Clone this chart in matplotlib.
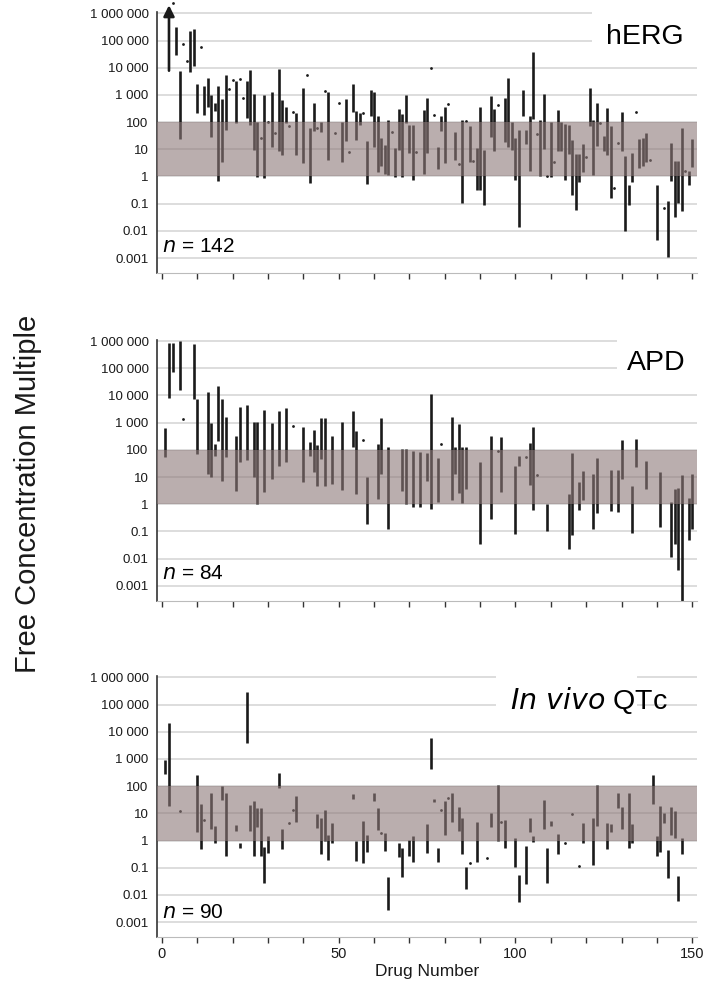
import matplotlib
matplotlib.use("Agg")
import matplotlib.pyplot as plt
import numpy as np
from matplotlib.patches import Rectangle

plt.rcParams["font.family"] = ["Liberation Sans", "DejaVu Sans"]

# --- hERG : drug number, log10 upper / lower free concentration multiple ---
herg_drug = [4, 5, 8, 9, 10, 12, 13, 14, 15, 16, 17, 18, 21, 24, 25, 26, 27, 29, 31, 33,
             34, 35, 38, 40, 42, 43, 45, 47, 51, 52, 54, 55, 56, 58, 59, 60, 61, 62, 63, 64,
             66, 67, 68, 69, 70, 71, 74, 75, 78, 79, 80, 83, 85, 87, 89, 90, 91, 93, 94, 97,
             98, 99, 100, 101, 102, 103, 104, 105, 107, 108, 110, 112, 113, 114, 115, 116,
             117, 118, 119, 121, 122, 123, 125, 126, 127, 130, 131, 132, 133, 135, 136, 137,
             140, 143, 144, 145, 146, 147, 149, 150]
herg_hi = [5.49, 3.89, 5.35, 5.41, 3.39, 3.31, 3.61, 3.00, 2.69, 3.34, 2.85, 3.74, 3.52, 3.52,
           3.92, 3.03, 2.02, 2.98, 3.12, 3.96, 2.82, 2.55, 2.33, 3.25, 1.80, 2.72, 1.99, 3.12,
           2.02, 2.84, 3.40, 2.39, 2.35, 1.29, 3.19, 3.12, 2.21, 1.41, 1.14, 2.08, 1.04, 2.49,
           2.29, 3.00, 1.90, 1.90, 2.45, 2.87, 1.10, 2.21, 2.55, 1.65, 2.08, 1.86, 1.04, 2.55,
           0.98, 2.97, 2.49, 2.88, 3.61, 1.99, 1.43, 1.72, 3.19, 1.72, 2.23, 4.59, 2.06, 3.04,
           2.02, 2.45, 1.99, 1.94, 1.90, 1.35, 0.82, 0.82, 1.19, 3.25, 2.08, 2.69, 1.50, 2.51,
           1.86, 2.36, 0.77, -0.30, 0.86, 1.37, 1.41, 1.59, -0.30, -0.92, 1.23, 0.55, 0.58,
           1.77, 0.19, 1.39]
herg_lo = [4.45, 1.37, 3.83, 4.07, 2.35, 2.27, 2.57, 1.45, 2.39, -0.16, 0.52, 1.72, 1.96, 2.14,
           1.90, 0.98, -0.03, -0.06, 1.10, 0.92, 0.80, 1.96, 0.80, 0.49, -0.24, 1.68, 1.63, 0.59,
           0.52, 1.32, 2.36, 1.35, 1.90, -0.27, 2.24, 1.10, 0.16, 0.37, 0.10, 0.04, -0.02, 0.96,
           -0.03, 1.96, 0.86, -0.12, 0.10, 0.86, 0.28, 1.68, 0.49, 0.59, -0.98, 0.53, -0.49,
           -0.49, -1.04, 1.45, 0.92, 1.25, 1.10, 0.96, -0.14, -1.86, 2.21, 1.20, 0.19, 2.11,
           0.03, 1.01, -0.02, 0.92, 0.92, -0.12, 0.83, -0.70, -1.25, -0.22, 0.15, 1.86, 0.04,
           1.13, 0.94, 0.80, -0.79, 0.92, -1.99, -1.06, -0.21, 0.31, 0.37, 0.53, -2.35, -2.96,
           -0.18, -1.49, -0.98, -1.28, -0.30, 0.34]
herg_dot_drug = [3, 6, 7, 11, 19, 20, 22, 23, 28, 30, 32, 36, 37, 41, 44, 46, 49, 50, 53, 57,
                 65, 72, 76, 77, 81, 84, 86, 88, 95, 106, 109, 111, 120, 124, 128, 129, 134,
                 138, 142, 148]
herg_dot = [6.38, 4.87, 4.23, 4.78, 3.21, 3.53, 3.59, 2.87, 1.42, 1.99, 1.59, 1.86, 2.36, 3.72,
            1.78, 3.14, 1.59, 2.72, 0.90, 2.33, 1.63, 0.90, 4.00, 2.27, 2.67, 0.47, 2.05, 0.55,
            2.63, 1.56, 0.00, 0.52, 0.71, 1.96, -0.43, 1.23, 2.36, 0.59, -1.16, 0.19]
herg_arrow = (2, 3.89, 6.30)  # drug, log10 low, arrow tip

# --- APD ---
apd_drug = [1, 2, 3, 5, 9, 10, 13, 14, 15, 16, 17, 18, 21, 22, 24, 26, 27, 29, 31, 33, 35, 40,
            42, 43, 44, 45, 46, 48, 51, 54, 55, 58, 61, 62, 64, 68, 69, 71, 73, 75, 76, 78, 82,
            83, 84, 85, 86, 90, 93, 96, 100, 101, 104, 105, 109, 115, 116, 118, 119, 122, 123,
            127, 129, 130, 133, 134, 137, 141, 144, 145, 146, 147, 149, 150]
apd_hi = [2.80, 5.94, 5.94, 6.00, 5.89, 3.86, 4.14, 3.00, 2.21, 4.36, 3.86, 3.22, 2.52, 3.59,
          3.65, 3.04, 3.04, 3.47, 2.98, 3.43, 3.55, 2.83, 2.28, 2.74, 2.19, 3.16, 3.16, 2.49,
          3.04, 3.43, 2.71, 0.99, 2.21, 3.16, 2.09, 2.03, 2.03, 1.94, 1.92, 1.90, 4.04, 1.70,
          3.22, 2.12, 2.96, 2.09, 2.09, 1.57, 2.49, 2.47, 1.42, 1.78, 2.25, 2.83, 0.02, 0.38,
          1.88, 0.82, 1.21, 1.12, 1.70, 1.27, 1.24, 2.37, 0.66, 2.39, 1.60, 1.17, 0.08, 0.56,
          0.60, 1.06, 0.23, 1.11]
apd_lo = [1.73, 3.90, 4.88, 4.20, 3.86, 1.84, 1.11, 0.99, 1.78, 2.33, 0.84, 1.72, 0.50, 1.57,
          1.64, 1.00, -0.01, 0.44, 0.94, 1.39, 1.54, 0.80, 1.78, 1.17, 0.68, 1.66, 0.66, 0.74,
          0.54, 2.10, 0.38, -0.72, 0.19, 1.12, -0.93, 0.47, -0.01, -0.10, -0.11, 0.87, -0.17,
          0.08, 0.17, 1.12, 0.41, 0.05, 0.56, -1.46, -0.54, 0.44, -1.11, 1.39, 0.69, -0.20,
          -0.99, -1.64, -1.15, -0.20, 0.17, -0.91, -0.32, -0.26, -0.30, 0.94, -1.05, 1.37, 0.57,
          -0.85, -1.95, -1.48, -2.42, -3.80, -1.30, -0.93]
apd_dot_drug = [6, 37, 57, 79, 95, 103, 106]
apd_dot = [3.14, 2.86, 2.35, 2.21, 1.94, 1.72, 1.09]

# --- In vivo QTc ---
qtc_drug = [1, 2, 10, 11, 14, 15, 17, 18, 21, 22, 24, 25, 26, 27, 28, 29, 30, 33, 34, 38, 44,
            45, 46, 47, 48, 54, 55, 57, 58, 60, 61, 63, 64, 67, 68, 70, 71, 75, 76, 77, 78, 80,
            82, 84, 85, 86, 89, 93, 95, 97, 100, 101, 103, 104, 105, 108, 109, 110, 112, 119,
            122, 123, 126, 127, 129, 130, 132, 133, 139, 140, 141, 142, 143, 144, 145, 146, 147]
qtc_hi = [2.95, 4.33, 2.40, 1.34, 1.73, 0.53, 2.01, 1.75, 0.57, -0.10, 5.45, 1.30, 1.46, 1.18,
          1.18, -0.23, 0.16, 2.50, 0.41, 1.64, 0.96, 0.81, 1.14, 0.22, 0.65, 1.70, -0.02, 0.71,
          0.22, 1.75, 1.18, 0.29, -1.35, -0.10, -0.29, 0.02, 0.16, 0.59, 3.77, 1.54, -0.26,
          1.45, 1.73, 1.24, 0.81, -0.96, 0.69, 1.02, 2.03, 0.77, 0.08, -1.27, -0.20, 0.84,
          0.16, 1.48, -0.29, 0.71, 0.24, 0.65, 0.84, 2.03, 0.63, 0.60, 1.76, 1.24, 1.76, 0.59,
          2.40, 0.18, 1.27, 1.03, -0.35, 1.24, 1.09, -1.29, 0.10]
qtc_lo = [2.43, 1.27, 0.32, -0.31, 0.44, -0.08, 1.48, -0.56, 0.35, -0.29, 3.58, 0.36, -0.56,
          0.48, -0.56, -1.57, -0.47, 1.95, -0.32, 0.69, 0.47, -0.50, -0.01, -0.72, -0.10, 1.52,
          -0.74, -0.84, -0.43, 1.46, 0.38, -0.39, -2.57, -0.62, -1.35, -0.56, -0.80, -0.45,
          2.64, 1.40, -0.78, 0.22, 0.69, 0.35, -0.50, -1.79, -0.80, 0.48, -0.01, -0.29, -0.98,
          -2.27, -1.59, 0.32, -0.07, 0.44, -1.57, 0.54, -0.50, -0.10, -0.90, 0.53, -0.32, 0.32,
          1.20, 0.44, -0.26, -0.08, 1.36, -0.56, -0.43, 0.66, -1.39, 0.22, 0.10, -2.21, -0.50]
qtc_dot_drug = [5, 12, 36, 37, 62, 79, 81, 87, 92, 96, 114, 116, 118]
qtc_dot = [1.08, 0.75, 0.66, 1.14, 0.29, 1.12, 1.57, -0.84, -0.63, 0.69, -0.08, 0.96, -0.94]

ytick_vals = [1e-3, 1e-2, 1e-1, 1, 10, 100, 1e3, 1e4, 1e5, 1e6]
ytick_labels = ["0.001", "0.01", "0.1", "1", "10", "100", "1 000", "10 000", "100 000",
                "1 000 000"]

panels = [
    dict(drug=herg_drug, hi=herg_hi, lo=herg_lo, dx=herg_dot_drug, dy=herg_dot,
         title="hERG", tx=147.5, ty=5.13, box_x=121.7, n="142", ny=-2.78, bottom=0.7265),
    dict(drug=apd_drug, hi=apd_hi, lo=apd_lo, dx=apd_dot_drug, dy=apd_dot,
         title="APD", tx=148.0, ty=5.19, box_x=128.8, n="84", ny=-2.75, bottom=0.3981),
    dict(drug=qtc_drug, hi=qtc_hi, lo=qtc_lo, dx=qtc_dot_drug, dy=qtc_dot,
         title=None, tx=143.2, ty=5.14, box_x=94.5, n="90", ny=-2.85, bottom=0.0611),
]

BAND = "#8c7878"
GRID = "#dadada"
INK = "#1a1a1a"

fig = plt.figure(figsize=(7.09, 9.98), dpi=100)
axes = []
for i, p in enumerate(panels):
    ax = fig.add_axes([0.2214, p["bottom"], 0.762, 0.2615])
    axes.append(ax)
    ax.set_yscale("log")
    ax.set_ylim(10 ** -3.55, 10 ** 6.05)
    ax.set_xlim(-1.4, 151.4)

    ax.set_yticks(ytick_vals)
    ax.set_yticklabels(ytick_labels)
    ax.yaxis.set_minor_locator(matplotlib.ticker.NullLocator())
    ax.tick_params(axis="y", length=0, labelsize=9.5, colors=INK, pad=6)
    ax.yaxis.grid(True, color=GRID, linewidth=1.3)
    ax.xaxis.grid(False)
    ax.set_axisbelow(True)

    ax.set_xticks(np.arange(0, 151, 10))
    if i == 2:
        ax.set_xticklabels([str(v) if v % 50 == 0 else "" for v in range(0, 151, 10)])
    else:
        ax.set_xticklabels([])
    ax.tick_params(axis="x", direction="out", length=4, width=1, colors="#333333",
                   labelsize=10.5, labelcolor=INK)

    for s in ["top", "right"]:
        ax.spines[s].set_visible(False)
    ax.spines["left"].set_color("#333333")
    ax.spines["left"].set_linewidth(1.2)
    ax.spines["bottom"].set_color("#bbbbbb")
    ax.spines["bottom"].set_linewidth(0.8)

    # white box behind the panel title
    ax.add_patch(Rectangle((p["box_x"], 10 ** 4.55), 40, 10 ** 7, facecolor="white",
                           edgecolor="none", zorder=0.8))

    lo = 10 ** np.array(p["lo"])
    hi = 10 ** np.array(p["hi"])
    ax.vlines(p["drug"], lo, hi, color=INK, linewidth=1.9, zorder=2)
    ax.plot(p["dx"], 10 ** np.array(p["dy"]), linestyle="none", marker="o", markersize=2.0,
            markeredgewidth=0, color=INK, zorder=2, clip_on=False)

    ax.axhspan(1, 100, facecolor=BAND, alpha=0.6, edgecolor="none", zorder=3)

    if p["title"]:
        ax.text(p["tx"], 10 ** p["ty"], p["title"], ha="right", va="center", fontsize=20.5,
                color="black", zorder=4)
    else:
        ax.text(p["tx"], 10 ** p["ty"], r"$\it{In\ vivo}$ QTc", ha="right", va="center",
                fontsize=20.5, color="black", zorder=4)

    ax.text(0, 10 ** p["ny"], r"$\it{n}$ = " + p["n"], ha="left", va="baseline",
            fontsize=15, color="black", zorder=4)

# arrow for drug 2 in hERG panel (value beyond the axis)
d, a_lo, a_hi = herg_arrow
axes[0].annotate("", xy=(d, 10 ** a_hi), xytext=(d, 10 ** a_lo),
                 arrowprops=dict(arrowstyle="-|>", color=INK, lw=1.9, mutation_scale=16,
                                 shrinkA=0, shrinkB=0),
                 annotation_clip=False, zorder=2)

axes[2].set_xlabel("Drug Number", fontsize=12.5, color=INK, labelpad=2)
fig.text(0.04, 0.505, "Free Concentration Multiple", rotation=90, ha="center", va="center",
         fontsize=21, color=INK)

fig.savefig("out.png", dpi=100, facecolor="white")
